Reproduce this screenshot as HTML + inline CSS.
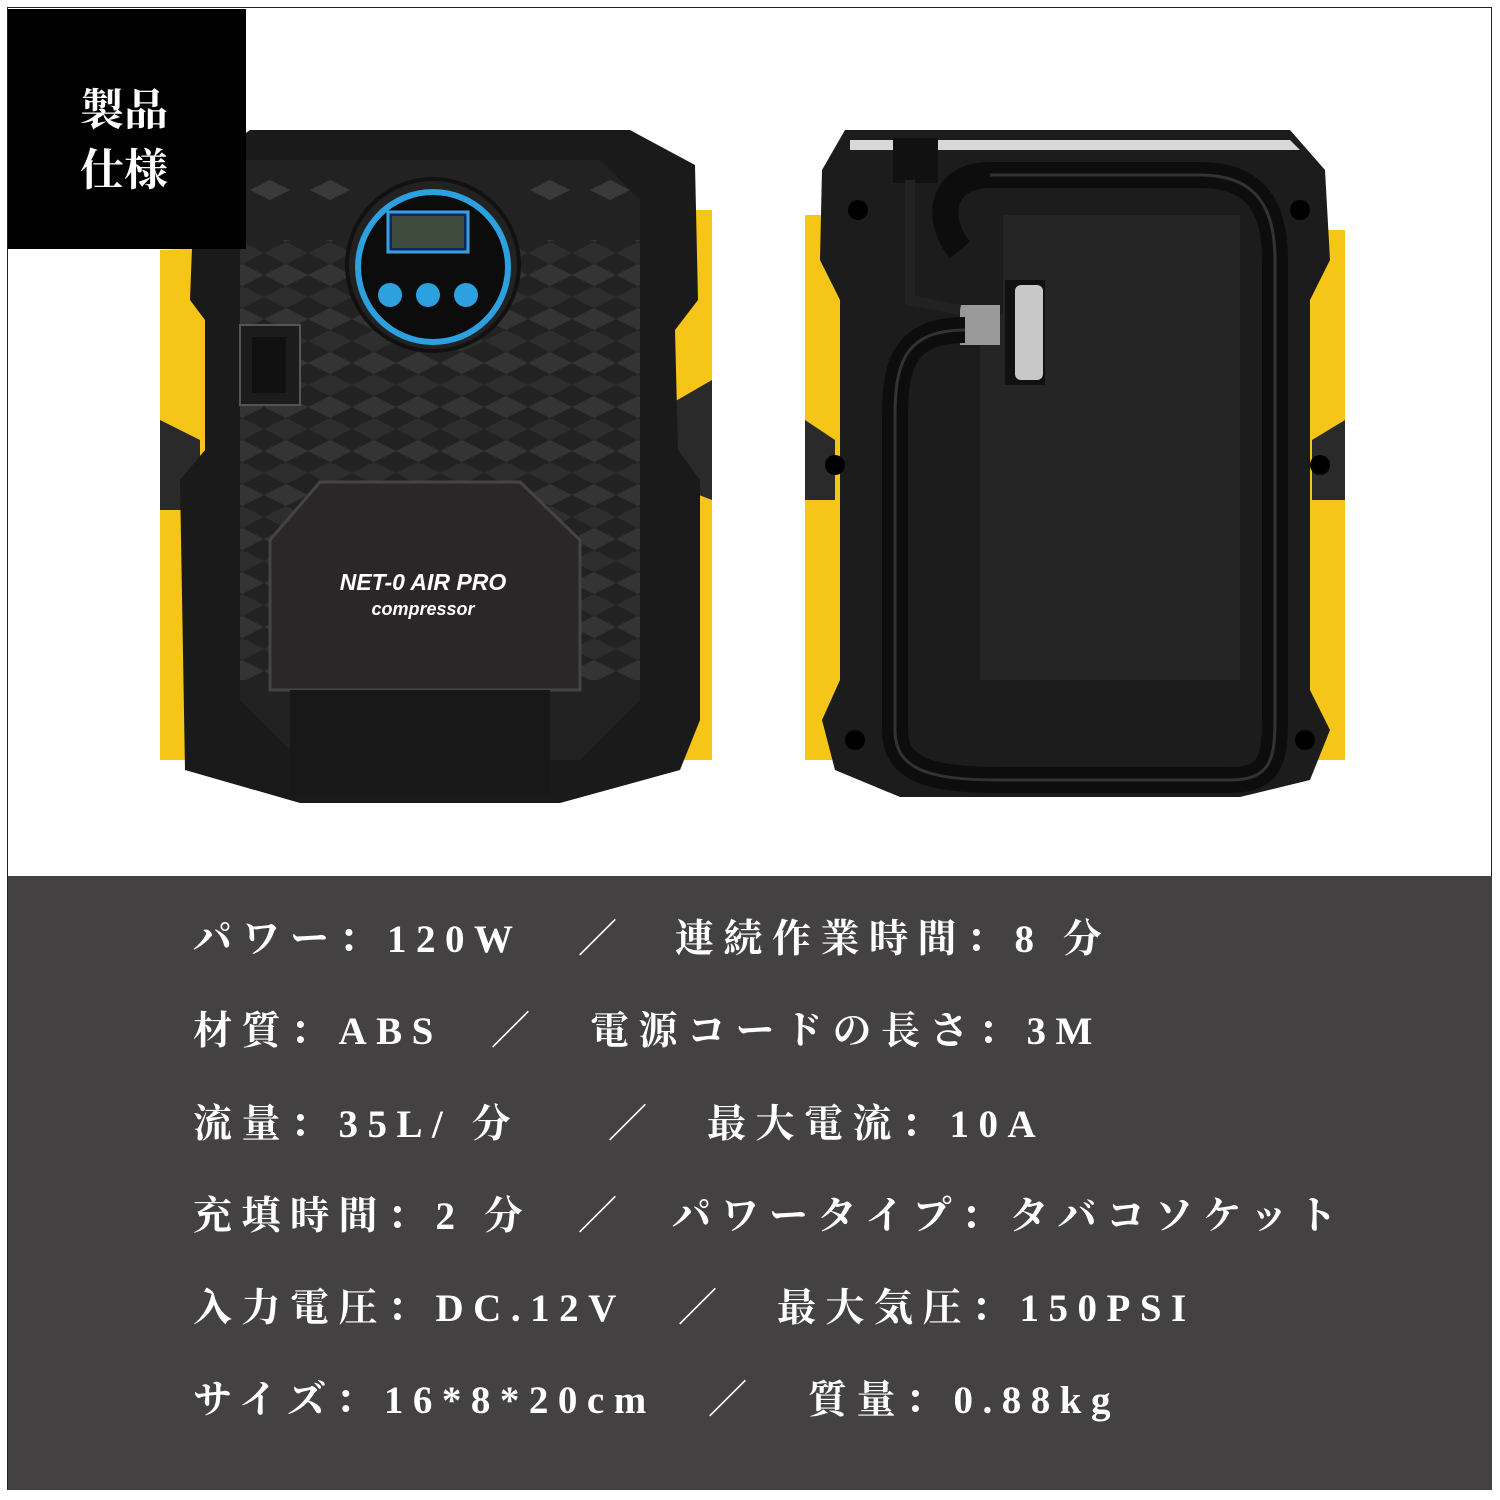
<!DOCTYPE html>
<html><head><meta charset="utf-8"><style>
html,body{margin:0;padding:0;}
body{width:1500px;height:1500px;background:#fff;position:relative;overflow:hidden;font-family:"Liberation Serif","Noto Serif CJK SC",serif;}
.frame{position:absolute;left:7px;top:7px;width:1485px;height:1483px;border:1px solid #222;box-sizing:border-box;}
.tag{position:absolute;left:8px;top:9px;width:238px;height:240px;background:#000;color:#fff;font-size:44px;font-weight:700;line-height:60px;box-sizing:border-box;padding:72px 0 0 72px;letter-spacing:0px;}
.spec{position:absolute;left:8px;top:876px;width:1484px;height:614px;background:#434142;}
.t{position:absolute;color:#fff;font-size:39px;font-weight:700;letter-spacing:9.5px;white-space:nowrap;line-height:50px;}
</style></head><body>
<div class="frame"></div>
<svg style="position:absolute;left:0;top:0" width="1500" height="876">
 <path d="M160 250 L205 248 L205 760 L160 760 Z" fill="#f5c518"/>
 <path d="M660 210 L712 210 L712 760 L660 760 Z" fill="#f5c518"/>
 <path d="M160 420 L200 440 L200 510 L160 510 Z" fill="#2a2a2a"/>
 <path d="M660 410 L712 380 L712 500 L660 480 Z" fill="#2a2a2a"/>
 <path d="M250 130 L630 130 L695 165 L698 300 L675 330 L678 450 L700 480 L700 720 L680 770 L560 803 L300 803 L185 770 L180 480 L205 450 L205 320 L190 300 L195 170 Z" fill="#1a1a1a"/>
 <path d="M240 160 L600 160 L640 200 L640 700 L580 760 L300 760 L240 700 Z" fill="#222"/>
 <g fill="#3a3a3a">
  <path d="M250 190 l20 -10 l20 10 l-20 10z M310 190 l20 -10 l20 10 l-20 10z M530 190 l20 -10 l20 10 l-20 10z M590 190 l20 -10 l20 10 l-20 10z"/>
 </g>
 <rect x="240" y="240" width="400" height="440" fill="url(#hex)" opacity="0.7"/>
 <defs><pattern id="hex" width="44" height="44" patternUnits="userSpaceOnUse"><path d="M0 11 L22 0 L44 11 L22 22Z" fill="#3b3b3b"/><path d="M0 33 L22 22 L44 33 L22 44Z" fill="#333"/></pattern></defs>
 <circle cx="433" cy="265" r="88" fill="#111"/>
 <circle cx="433" cy="265" r="84" fill="#222"/>
 <circle cx="433" cy="267" r="78" fill="#2da0e0"/>
 <circle cx="433" cy="267" r="72" fill="#0c0c0c"/>
 <rect x="388" y="212" width="80" height="40" fill="#0a2a5a" stroke="#3aa0e0" stroke-width="3"/>
 <rect x="392" y="216" width="72" height="32" fill="#3e4a3c"/>
 <circle cx="390" cy="295" r="12" fill="#2da0e0"/><circle cx="428" cy="295" r="12" fill="#2da0e0"/><circle cx="466" cy="295" r="12" fill="#2da0e0"/>
 <rect x="240" y="325" width="60" height="80" fill="#1c1c1c" stroke="#555" stroke-width="2"/>
 <rect x="252" y="337" width="34" height="56" fill="#111"/>
 <path d="M320 482 L520 482 L580 540 L580 690 L270 690 L270 540 Z" fill="#2b2627" stroke="#444" stroke-width="3"/>
 <rect x="290" y="690" width="260" height="105" fill="#181818"/>
 <text x="423" y="590" fill="#fff" font-family="Liberation Sans,sans-serif" font-size="23" font-weight="700" font-style="italic" text-anchor="middle">NET-0 AIR PRO</text>
 <text x="423" y="615" fill="#fff" font-family="Liberation Sans,sans-serif" font-size="18" font-weight="700" font-style="italic" text-anchor="middle">compressor</text>
 <path d="M805 215 L840 215 L840 760 L805 760 Z" fill="#f5c518"/>
 <path d="M1308 230 L1345 230 L1345 760 L1308 760 Z" fill="#f5c518"/>
 <path d="M805 420 L835 440 L835 500 L805 500Z" fill="#2a2a2a"/>
 <path d="M1345 420 L1312 440 L1312 500 L1345 500Z" fill="#2a2a2a"/>
 <path d="M845 130 L1290 130 L1325 170 L1330 260 L1310 300 L1310 690 L1330 730 L1310 780 L1240 797 L900 797 L835 770 L822 720 L840 680 L840 300 L820 260 L822 170 Z" fill="#1c1c1c"/>
 <path d="M850 140 L1290 140 L1300 150 L850 150Z" fill="#d8d8d8"/>
 <circle cx="858" cy="210" r="10" fill="#000"/><circle cx="1300" cy="210" r="10" fill="#000"/>
 <circle cx="835" cy="465" r="10" fill="#000"/><circle cx="1320" cy="465" r="10" fill="#000"/>
 <circle cx="855" cy="740" r="10" fill="#000"/><circle cx="1305" cy="740" r="10" fill="#000"/>
 <path d="M1003 215 L1240 215 L1240 680 L980 680 L980 315 L1003 315Z" fill="#252525"/>
 <rect x="1005" y="280" width="40" height="105" fill="#111"/>
 <rect x="1015" y="285" width="28" height="95" rx="6" fill="#c8c8c8"/>
 <rect x="960" y="305" width="40" height="40" fill="#999"/>
 <rect x="893" y="138" width="45" height="45" fill="#111"/>
 <path d="M910 180 L910 300 L960 310" stroke="#222" stroke-width="10" fill="none"/>
 <path d="M965 330 C900 330 895 370 895 420 L895 730 C895 770 930 780 1000 780 L1230 780 C1270 780 1275 760 1275 720 L1275 260 C1275 200 1250 175 1200 175 L990 175 C940 175 935 220 960 250" stroke="#0d0d0d" stroke-width="26" fill="none"/>
 <path d="M965 330 C900 330 895 370 895 420 L895 730 C895 770 930 780 1000 780 L1230 780 C1270 780 1275 760 1275 720 L1275 260 C1275 200 1250 175 1200 175 L990 175" stroke="#333" stroke-width="3" fill="none"/>
</svg>
<div class="tag">製品<br>仕様</div>
<div class="spec"></div>
<div class="t" style="left:193px;top:915px">パワー：120W</div><div class="t" style="left:578px;top:915px">／</div><div class="t" style="left:675px;top:915px">連続作業時間：8 分</div>
<div class="t" style="left:193px;top:1007px">材質：ABS</div><div class="t" style="left:491px;top:1007px">／</div><div class="t" style="left:590px;top:1007px">電源コードの長さ：3M</div>
<div class="t" style="left:193px;top:1100px">流量：35L/ 分</div><div class="t" style="left:608px;top:1100px">／</div><div class="t" style="left:707px;top:1100px">最大電流：10A</div>
<div class="t" style="left:193px;top:1192px">充填時間：2 分</div><div class="t" style="left:578px;top:1192px">／</div><div class="t" style="left:672px;top:1192px">パワータイプ：タバコソケット</div>
<div class="t" style="left:193px;top:1284px">入力電圧：DC.12V</div><div class="t" style="left:678px;top:1284px">／</div><div class="t" style="left:777px;top:1284px">最大気圧：150PSI</div>
<div class="t" style="left:193px;top:1376px">サイズ：16*8*20cm</div><div class="t" style="left:708px;top:1376px">／</div><div class="t" style="left:808px;top:1376px">質量：0.88kg</div>
</body></html>
